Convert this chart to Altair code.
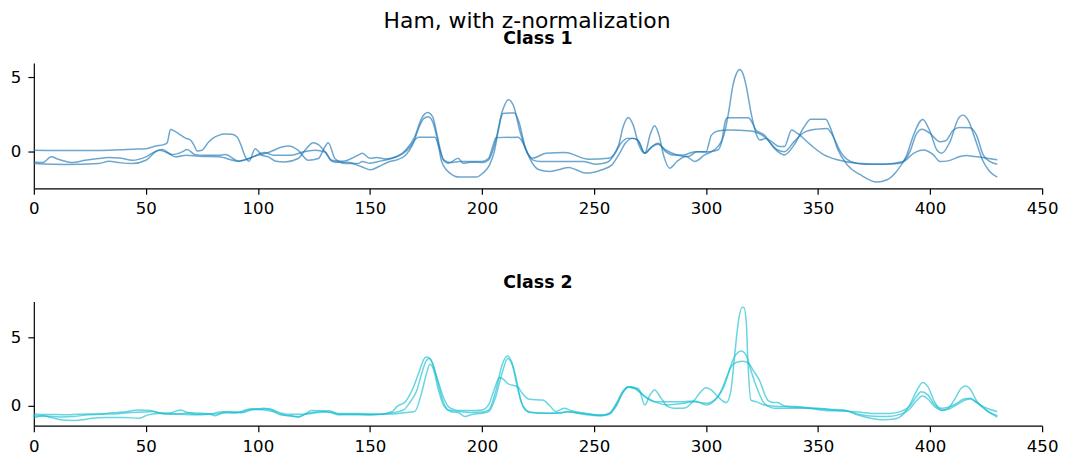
import altair as alt
import pandas as pd

# ---------------- Class 1 (three series) ----------------
c1_a_x = [0, 10, 20, 30, 40, 44, 50, 54.4, 58, 59.5, 61, 63, 64.7, 67.7, 70, 71.5, 72.9, 75, 78, 80, 82.5, 85, 88.4, 90.7, 92.5, 94.4, 96, 98.8, 101.8, 104.7, 108, 112, 118, 121, 124.7, 127, 130, 133, 136, 140, 146, 150.3, 154, 158, 162, 166, 169, 172, 174, 176, 178, 180, 182, 185.7, 190, 197.5, 200.4, 203.4, 205.5, 207.5, 209.3, 212, 214.5, 216.5, 219, 222, 225.5, 230, 234, 238.8, 242, 246, 250, 253.5, 258, 261, 264, 267, 269.5, 272.7, 275, 278.6, 282, 285, 290, 295, 300, 305.3, 307, 308.5, 309.5, 319, 320, 322.3, 326, 330.5, 335, 339.3, 343.8, 346.7, 353.4, 355.6, 358.6, 363, 368.9, 376.3, 380.8, 385, 389.6, 392.6, 396.7, 400, 403, 405.2, 408.9, 412.6, 414.5, 417, 420, 423.7, 426.6, 430]
c1_a_y = [0.11, 0.1, 0.1, 0.1, 0.15, 0.18, 0.22, 0.4, 0.49, 0.62, 1.51, 1.38, 1.22, 0.93, 0.78, 0.44, 0.07, 0.11, 0.67, 0.93, 1.11, 1.2, 1.18, 1.0, 0.44, -0.33, -0.62, 0.22, -0.22, -0.33, -0.62, -0.67, -0.44, 0.11, 0.62, 0.49, 0.0, -0.62, -0.7, -0.69, -0.98, -1.2, -0.98, -0.69, -0.53, -0.2, 0.47, 1.69, 2.24, 2.36, 2.02, 0.91, -0.64, -1.42, -1.69, -1.69, -1.42, -0.87, 0.02, 1.58, 2.58, 2.62, 2.62, 2.02, 0.47, -0.64, -1.2, -1.31, -1.2, -1.04, -1.2, -1.42, -1.36, -1.2, -0.87, -0.2, 0.58, 0.91, 0.8, -0.09, 0.24, 0.58, 0.02, -0.2, -0.2, 0.02, 0.0, 0.13, 0.69, 2.02, 2.29, 2.29, 2.13, 1.47, 1.13, 0.24, -0.2, 0.47, 1.69, 2.2, 2.2, 1.58, 0.24, -0.87, -1.53, -2.02, -1.87, -1.31, -0.2, 1.13, 2.18, 1.36, 0.13, -0.09, 0.69, 2.24, 2.47, 2.13, 0.91, -0.64, -1.31, -1.69]

c1_b_x = [0, 4, 7.7, 11, 17.3, 23, 29, 33.6, 38, 44, 50, 54.4, 57.3, 61.8, 66.2, 68.4, 72, 76.6, 82.5, 85.5, 91.4, 96, 103, 107, 115, 120, 125.5, 130, 133, 138, 144.7, 146.6, 150, 153, 157, 162, 166, 170, 173, 175.7, 178, 180, 182.7, 185, 189.4, 191.5, 195, 200, 203, 206, 209, 211.8, 214, 217, 220, 222.6, 228.5, 237, 247.6, 256.5, 261, 263, 265.3, 267.5, 270, 272.7, 275, 277, 279, 281, 283.8, 287, 291, 295, 299.4, 302.4, 305.3, 308, 310, 312, 313.5, 315, 316.5, 318, 320, 322.3, 324, 326.8, 329.7, 332.7, 335, 338.2, 340.8, 346.7, 352.7, 358.6, 367.5, 379, 388, 392.6, 397, 401.5, 404.4, 408, 413.3, 416.3, 420, 430]
c1_b_y = [-0.67, -0.71, -0.33, -0.49, -0.71, -0.56, -0.44, -0.38, -0.4, -0.56, -0.33, 0.04, 0.16, -0.18, 0.0, 0.16, -0.18, -0.22, -0.22, -0.18, -0.62, -0.44, -0.04, -0.22, -0.22, 0.0, 0.11, 0.0, -0.56, -0.62, -0.22, -0.09, -0.42, -0.38, -0.47, -0.31, 0.13, 1.02, 2.24, 2.64, 2.36, 1.13, -0.53, -0.76, -0.42, -0.76, -0.69, -0.71, -0.53, 0.69, 2.69, 3.51, 3.13, 1.36, 0.02, -0.42, -0.09, -0.04, -0.49, -0.42, 0.47, 1.69, 2.31, 1.8, 0.47, -0.09, 1.13, 1.76, 1.13, -0.2, -1.09, -0.64, -0.31, -0.64, -0.2, 0.02, 0.36, 1.13, 2.58, 4.47, 5.24, 5.53, 5.24, 4.36, 2.69, 1.24, 0.8, 0.91, 0.64, 0.36, 0.36, 1.47, 1.24, 0.47, -0.2, -0.53, -0.76, -0.82, -0.64, -0.09, 0.13, -0.2, -0.64, -0.6, -0.31, -0.24, -0.31, -0.53]

c1_c_x = [0, 14.4, 29, 33.6, 38, 44, 50, 55.9, 58.8, 63.3, 68, 73.6, 82.5, 91.4, 100, 104.7, 110.7, 113.6, 118, 122.5, 127, 129.5, 131.4, 134.4, 139, 144.7, 146.6, 150, 155, 160, 165, 168, 170, 171.7, 179, 181, 183, 186, 190, 200, 203, 205, 206.3, 216, 218, 220, 222.6, 226, 245, 250.6, 256, 259, 262, 265, 268, 270, 272.7, 276, 278.6, 282, 287, 292, 296, 300, 302.4, 305.3, 310, 320, 326, 332, 335, 339.3, 343.8, 349.7, 354, 356.4, 360, 364.5, 370.4, 379.3, 386.7, 391, 394, 396.4, 400, 404.4, 406.7, 410.4, 413, 417.7, 420.7, 423.7, 426.6, 430]
c1_c_y = [-0.78, -0.84, -0.78, -0.62, -0.71, -0.78, -0.56, 0.11, 0.0, -0.33, -0.22, -0.29, -0.33, -0.62, -0.22, -0.04, 0.33, 0.4, 0.11, -0.56, -0.44, 0.22, 0.62, -0.44, -0.78, -0.78, -0.64, -0.76, -0.6, -0.42, -0.09, 0.36, 0.8, 0.98, 0.98, 0.24, -0.53, -0.71, -0.64, -0.64, -0.42, 0.47, 0.96, 0.98, 0.69, 0.02, -0.53, -0.64, -0.64, -0.82, -0.69, -0.2, 0.58, 0.91, 0.91, 0.69, -0.09, 0.36, 0.51, 0.13, -0.2, -0.31, 0.02, 0.02, 1.13, 1.4, 1.47, 1.4, 1.02, 0.13, 0.02, 0.69, 1.31, 1.53, 1.58, 1.13, 0.02, -0.64, -0.82, -0.82, -0.76, 0.02, 1.24, 1.53, 1.24, 0.69, 0.73, 1.47, 1.64, 1.62, 1.13, -0.2, -0.64, -0.82]

# ---------------- Class 2 (three series) ----------------
c2_a_x = [0, 5, 10, 15, 20, 30, 35, 40, 47, 52, 56, 60, 65.5, 68, 72, 78, 81, 85, 90, 97, 100, 103, 106, 110, 115, 118, 121, 124, 128, 132, 136, 140, 145, 150, 155, 160, 165, 170, 173, 175, 176.8, 178.5, 180.5, 183, 186, 190, 192.3, 196, 200, 203, 206, 209, 211.5, 213.5, 216, 218.5, 221, 226, 235, 238, 245, 253.5, 257, 260, 263, 265.3, 267.5, 269.8, 272.7, 275, 277, 280, 283, 286, 290, 294.8, 297, 300, 302, 305.3, 309, 311, 312.7, 314.5, 316, 316.9, 318, 318.6, 320, 322.3, 326, 329, 335, 345, 355, 362, 368, 375, 381, 387, 391, 394, 396.5, 399, 402, 405.2, 408, 412, 416, 418, 421, 425, 430]
c2_a_y = [-0.58, -0.62, -0.62, -0.65, -0.6, -0.58, -0.5, -0.45, -0.29, -0.34, -0.5, -0.55, -0.29, -0.45, -0.6, -0.58, -0.72, -0.45, -0.5, -0.2, -0.2, -0.17, -0.3, -0.65, -0.72, -0.82, -0.6, -0.34, -0.35, -0.45, -0.65, -0.6, -0.6, -0.65, -0.6, -0.58, -0.5, -0.41, 0.91, 2.2, 3.03, 2.6, 1.2, 0.0, -0.41, -0.53, -0.77, -0.6, -0.53, -0.41, 0.6, 2.4, 3.44, 3.0, 1.2, -0.1, -0.45, -0.53, -0.53, -0.41, -0.6, -0.72, -0.6, 0.1, 1.0, 1.39, 1.3, 1.27, 0.07, 0.8, 1.15, 0.55, -0.05, -0.17, -0.17, 0.43, 0.9, 1.32, 1.2, 0.67, 0.24, 1.0, 3.56, 6.2, 7.16, 7.16, 6.0, 3.56, 0.43, 0.31, 0.07, 0.0, -0.05, -0.15, -0.35, -0.35, -0.6, -0.75, -0.77, -0.6, -0.2, 0.4, 0.72, 0.5, -0.05, -0.29, -0.25, 0.1, 0.45, 0.5, 0.2, -0.15, -0.41]

c2_b_x = [0, 4, 8, 12, 18, 22, 26, 32, 40, 47, 51, 55, 60, 66, 72, 78, 83, 88, 93, 98, 103, 108, 113, 118, 122, 127, 132, 136, 145, 155, 160, 162, 165.8, 169.5, 172, 174.5, 175.7, 177, 179.8, 182.7, 185, 188, 190, 195, 200, 203, 205.5, 207.8, 209.5, 211.5, 216, 218, 221, 227, 230, 233, 236.6, 240, 246, 253.5, 257, 260, 263, 265.3, 268, 271, 274, 277, 283, 290, 294.8, 300, 305.3, 309.8, 312.7, 315.7, 317.9, 320, 322.5, 326, 330.5, 340, 349.7, 355, 361.5, 367.5, 373.4, 379.3, 384, 388, 391, 394, 396.7, 399, 402, 405.2, 408, 411, 414, 416, 418, 421, 425, 430]
c2_b_y = [-0.89, -0.72, -0.85, -1.0, -1.06, -1.01, -0.9, -0.85, -0.85, -0.89, -0.65, -0.55, -0.53, -0.6, -0.65, -0.6, -0.45, -0.4, -0.5, -0.25, -0.3, -0.45, -0.72, -0.77, -0.55, -0.4, -0.35, -0.6, -0.65, -0.6, -0.4, -0.05, 0.31, 1.39, 2.5, 3.5, 3.56, 3.4, 2.12, 0.67, -0.05, -0.29, -0.34, -0.34, -0.29, 0.1, 1.2, 2.07, 1.95, 1.63, 1.39, 0.91, 0.48, 0.43, 0.07, -0.41, -0.17, -0.35, -0.53, -0.7, -0.55, 0.0, 1.0, 1.35, 1.27, 0.91, 0.55, 0.31, 0.07, 0.2, 0.31, 0.19, 0.67, 2.36, 3.56, 3.99, 3.68, 2.6, 1.39, 0.19, -0.17, -0.17, -0.17, -0.25, -0.29, -0.65, -0.89, -1.01, -0.95, -0.6, 0.1, 1.1, 1.71, 1.4, 0.3, -0.34, -0.2, 0.5, 1.3, 1.44, 1.2, 0.3, -0.3, -0.72]

c2_c_x = [0, 6, 12, 18, 24, 30, 36, 42, 48, 53, 58, 64, 70, 76, 80, 86, 92, 96, 101, 105, 109, 114, 120, 126, 131, 136, 145, 155, 160, 165, 168, 171, 173, 175.2, 176.5, 178, 180, 182.7, 185, 190, 195, 200, 203, 206.3, 209, 211.5, 213, 215, 217.5, 219.6, 222, 230, 238, 245, 253.5, 257, 260, 263, 265.3, 267, 269.8, 272.7, 277, 283, 290, 294.8, 300, 305.3, 308, 311.2, 314, 316.4, 319, 321, 323.8, 327.5, 330, 332, 335, 340, 350, 360, 368, 375, 382, 387, 391, 394, 396, 399, 402, 405.2, 408, 412, 415, 417.8, 421, 425, 430]
c2_c_y = [-0.72, -0.75, -0.8, -0.77, -0.65, -0.6, -0.58, -0.5, -0.45, -0.41, -0.58, -0.6, -0.5, -0.55, -0.6, -0.5, -0.48, -0.3, -0.25, -0.2, -0.45, -0.6, -0.6, -0.5, -0.45, -0.55, -0.55, -0.6, -0.5, -0.3, 0.3, 1.15, 2.3, 3.3, 3.44, 3.1, 1.9, 0.3, -0.3, -0.41, -0.48, -0.45, -0.3, 1.15, 3.0, 3.63, 3.3, 2.2, 0.3, -0.29, -0.48, -0.53, -0.45, -0.55, -0.65, -0.5, 0.2, 1.1, 1.39, 1.39, 1.15, 0.67, 0.31, 0.31, 0.31, 0.36, 0.07, 0.67, 1.4, 2.84, 3.2, 3.25, 3.1, 2.6, 1.88, 0.43, 0.24, 0.24, 0.0, -0.05, -0.2, -0.35, -0.45, -0.55, -0.55, -0.4, 0.0, 0.7, 1.03, 0.8, 0.1, -0.17, -0.1, 0.2, 0.5, 0.55, 0.25, -0.3, -0.82]

x_ticks = [0, 50, 100, 150, 200, 250, 300, 350, 400, 450]
y_ticks = [0, 5]

FONT = "DejaVu Sans"


def frame(xs, ys, name):
    return pd.DataFrame({"t": xs, "v": ys, "s": name})


def panel(frames, color, title, ydom, height, title_offset):
    df = pd.concat(frames, ignore_index=True)
    return alt.Chart(df).mark_line(
        interpolate="monotone", strokeWidth=1.5, opacity=0.65, color=color
    ).encode(
        x=alt.X("t:Q", scale=alt.Scale(domain=[0, 450], nice=False, zero=False),
                axis=alt.Axis(values=x_ticks, title=None, grid=False, labelFlush=False,
                              tickSize=6, labelPadding=6.5)),
        y=alt.Y("v:Q", scale=alt.Scale(domain=ydom, nice=False, zero=False),
                axis=alt.Axis(values=y_ticks, title=None, grid=False, labelFlush=False,
                              tickSize=6, labelPadding=7, minExtent=26, maxExtent=26)),
        detail="s:N",
    ).properties(
        width=1015, height=height,
        title=alt.TitleParams(title, fontSize=17.5, fontWeight="bold", font=FONT,
                              offset=title_offset, baseline="alphabetic", anchor="middle",
                              color="black"),
    )


top = panel([frame(c1_a_x, c1_a_y, "a"), frame(c1_b_x, c1_b_y, "b"), frame(c1_c_x, c1_c_y, "c")],
            "#1f77b4", "Class 1", [-2.44, 5.96], 126, 2)
bottom = panel([frame(c2_a_x, c2_a_y, "a"), frame(c2_b_x, c2_b_y, "b"), frame(c2_c_x, c2_c_y, "c")],
               "#17becf", "Class 2", [-1.44, 7.59], 125, -4)

chart = alt.vconcat(top, bottom, spacing=56).properties(
    title=alt.TitleParams("Ham, with z-normalization", fontSize=22, fontWeight="normal",
                          font=FONT, anchor="middle", color="black", offset=-3, dx=-6),
    padding={"left": 0, "top": 0, "right": 5, "bottom": 0},
).configure_view(stroke=None).configure_axis(
    domainColor="black", tickColor="black", labelColor="black",
    domainWidth=1.2, tickWidth=1.2, labelFont=FONT, labelFontSize=16.7,
)

chart.save("out.html", embed_options={"renderer": "svg", "actions": False})
